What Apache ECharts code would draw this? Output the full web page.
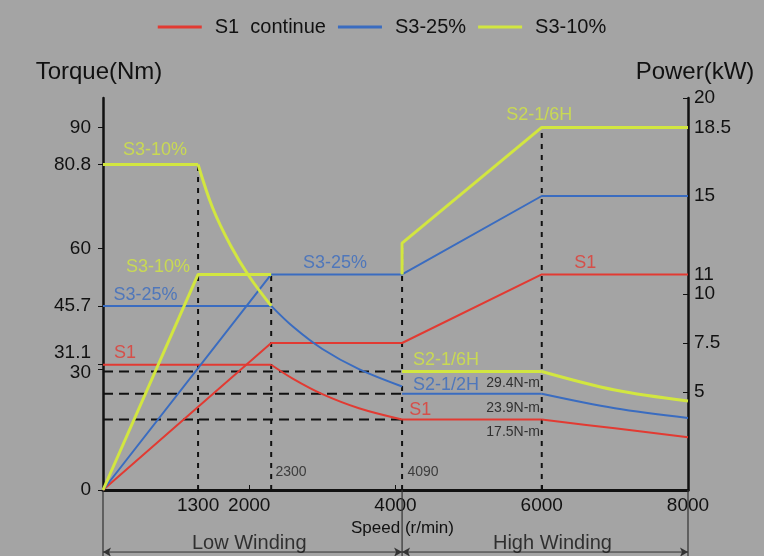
<!DOCTYPE html>
<html><head><meta charset="utf-8">
<script src="https://cdn.jsdelivr.net/npm/echarts@6/dist/echarts.min.js"></script>
<style>html,body{margin:0;padding:0;background:#a4a4a4;} #c{width:764px;height:556px;}</style>
</head><body><div id="c"></div>
<script>
// ---------------- data ----------------
const seriesNames = ['S1  continue', 'S3-25%', 'S3-10%'];
const xTickValues = [1300, 2000, 4000, 6000, 8000];
const torqueTickValues = [0, 30, 31.1, 45.7, 60, 80.8, 90];
const powerTickValues = [5, 7.5, 10, 11, 15, 18.5, 20];
const powerMax = 20;
const torqueAtPowerTop = 97.3;

// S1 continue  [speed r/min, torque Nm] / [speed, power kW]
const s1TorqueLow = [[0, 31.1], [2300, 31.1]];
const s1TorqueLowFall = [[2300, 31.1], [2600, 27.6], [3000, 23.8], [3500, 20.3], [4090, 17.5]];
const s1TorqueHigh = [[4090, 17.5], [6000, 17.5]];
const s1TorqueHighFall = [[6000, 17.5], [7000, 15.3], [8000, 13.1]];
const s1Power = [[0, 0], [2300, 7.5], [4090, 7.5], [6000, 11], [8000, 11]];

// S3-25%
const s325TorqueLow = [[0, 45.7], [2300, 45.7]];
const s325TorqueLowFall = [[2300, 45.7], [2600, 40.5], [3000, 35], [3500, 30], [4090, 25.7]];
const s325TorqueHigh = [[4090, 23.9], [6000, 23.9]];
const s325TorqueHighFall = [[6000, 23.9], [7000, 20.3], [8000, 17.9]];
const s325Power = [[0, 0], [2300, 11], [4090, 11], [6000, 15], [8000, 15]];

// S3-10%
const s310TorqueLow = [[0, 80.8], [1300, 80.8]];
const s310TorqueLowFall = [[1300, 80.8], [1500, 70], [1750, 60.5], [2000, 53], [2300, 45.7]];
const s310TorqueHigh = [[4090, 29.4], [6000, 29.4]];
const s310TorqueHighFall = [[6000, 29.4], [7000, 24.8], [8000, 22.1]];
const s310PowerLow = [[0, 0], [1300, 11], [2300, 11]];
const s310PowerHigh = [[4090, 11], [4090, 12.6], [6000, 18.5], [8000, 18.5]];

// reference guides
const torqueRefLevels = [29.4, 23.9, 17.5];
const torqueRefEnd = 4090;
const speedGuidesTorque = [[1300, 80.8]];
const speedGuidesPower = [[2300, 11], [4090, 12.6], [6000, 18.5]];
const windingBounds = [0, 4090, 8000];
const windingBottom = -16.5;
const windingArrowLevel = -15.4;

// annotations [speed, torque, text]
const greenNotes = [[711, 84.4, 'S3-10%'], [752, 55.3, 'S3-10%'], [5965, 93, 'S2-1/6H'], [4692, 32.3, 'S2-1/6H']];
const blueNotes = [[581, 48.4, 'S3-25%'], [3174, 56.3, 'S3-25%'], [4692, 26.0, 'S2-1/2H']];
const redNotes = [[301, 34.0, 'S1'], [6594, 56.3, 'S1'], [4337, 19.9, 'S1']];
const torqueNotes = [[5609, 26.6, '29.4N-m'], [5609, 20.3, '23.9N-m'], [5609, 14.4, '17.5N-m']];
const speedNotes = [[2572, 4.5, '2300'], [4377, 4.5, '4090']];
const windingNotes = [[2000, -13.2, 'Low Winding'], [6146, -13.2, 'High Winding']];

// ---------------- styles ----------------
const RED = '#e23a32', BLUE = '#3a6cc0', GREEN = '#d2e640', INK = '#111';
const FONT = '"Liberation Sans", Arial, sans-serif';

function curve(name, data, color, width, axis, smooth) {
  return { type: 'line', name, data, yAxisIndex: axis, symbol: 'none', smooth: smooth ? 0.35 : false,
    lineStyle: { color, width }, itemStyle: { color }, clip: false, z: 3, silent: true };
}
function guide(data, axis, dash, width, color) {
  return { type: 'line', data, yAxisIndex: axis, symbol: 'none', clip: false, z: 2, silent: true,
    lineStyle: { color: color || INK, width: width || 2, type: dash } };
}
function notes(data, color, size) {
  return { type: 'scatter', data, yAxisIndex: 0, symbolSize: 1, clip: false, z: 5, silent: true,
    itemStyle: { color: 'transparent' },
    label: { show: true, position: 'inside', formatter: p => p.data[2], color, fontSize: size,
      fontFamily: FONT, align: 'center', verticalAlign: 'middle' } };
}

const series = [];
torqueRefLevels.forEach(v => series.push(guide([[0, v], [torqueRefEnd, v]], 0, [10, 6], 2)));
speedGuidesTorque.forEach(g => series.push(guide([[g[0], 0], [g[0], g[1]]], 0, [5, 6], 2)));
speedGuidesPower.forEach(g => series.push(guide([[g[0], 0], [g[0], g[1]]], 1, [5, 6], 2)));
windingBounds.forEach(b => series.push(guide([[b, 0], [b, windingBottom]], 0, 'solid', 1.2, '#333')));
for (let i = 0; i < windingBounds.length - 1; i++) {
  series.push({ type: 'line', yAxisIndex: 0, clip: false, silent: true, z: 2,
    symbol: 'arrow', symbolSize: [7, 8], showSymbol: true,
    itemStyle: { color: '#333' }, lineStyle: { color: '#333', width: 1 },
    data: [{ value: [windingBounds[i], windingArrowLevel], symbolRotate: 90 },
           { value: [windingBounds[i + 1], windingArrowLevel], symbolRotate: -90 }] });
}

[[s1TorqueLow, 0, 0], [s1TorqueLowFall, 0, 1], [s1TorqueHigh, 0, 0], [s1TorqueHighFall, 0, 1], [s1Power, 1, 0]]
  .forEach(d => series.push(curve(seriesNames[0], d[0], RED, 2, d[1], d[2])));
[[s325TorqueLow, 0, 0], [s325TorqueLowFall, 0, 1], [s325TorqueHigh, 0, 0], [s325TorqueHighFall, 0, 1], [s325Power, 1, 0]]
  .forEach(d => series.push(curve(seriesNames[1], d[0], BLUE, 2, d[1], d[2])));
[[s310TorqueLow, 0, 0], [s310TorqueLowFall, 0, 1], [s310TorqueHigh, 0, 0], [s310TorqueHighFall, 0, 1], [s310PowerLow, 1, 0], [s310PowerHigh, 1, 0]]
  .forEach(d => series.push(curve(seriesNames[2], d[0], GREEN, 3, d[1], d[2])));

series.push(notes(greenNotes, GREEN, 18));
series.push(notes(blueNotes, BLUE, 18));
series.push(notes(redNotes, RED, 18));
series.push(notes(torqueNotes, INK, 14));
series.push(notes(speedNotes, '#222', 14));
series.push(notes(windingNotes, INK, 20));

const chart = echarts.init(document.getElementById('c'), null, { renderer: 'canvas' });
chart.setOption({
  backgroundColor: '#a4a4a4',
  animation: false,
  textStyle: { fontFamily: FONT },
  legend: {
    data: seriesNames, top: 12, left: 'center', icon: 'rect', itemWidth: 44, itemHeight: 3, itemGap: 12,
    textStyle: { fontSize: 20, color: INK, padding: [0, 0, 0, 8] }
  },
  grid: { left: 103, right: 76, top: 98, bottom: 66, containLabel: false },
  xAxis: {
    type: 'value', min: 0, max: 8000, position: 'bottom',
    splitLine: { show: false },
    axisLine: { lineStyle: { color: INK, width: 3 } },
    axisTick: { inside: true, length: 5, customValues: xTickValues, lineStyle: { color: INK, width: 1 } },
    axisLabel: { customValues: xTickValues, fontSize: 19, color: INK, margin: 6, formatter: v => String(v) },
    name: 'Speed (r/min)', nameLocation: 'middle', nameGap: 22,
    nameTextStyle: { fontSize: 17, color: INK, padding: [0, 0, 0, 14] }
  },
  yAxis: [{
    type: 'value', min: 0, max: torqueAtPowerTop, position: 'left',
    splitLine: { show: false },
    axisLine: { show: true, onZero: false, lineStyle: { color: INK, width: 2.5 } },
    axisTick: { show: true, length: 5, customValues: torqueTickValues, lineStyle: { color: INK } },
    axisLabel: {
      customValues: torqueTickValues, fontSize: 19, color: INK, margin: 12,
      formatter: v => v === 31.1 ? '{up|31.1}' : (v === 30 ? '{dn|30}' : String(v)),
      rich: { up: { fontSize: 19, color: INK, padding: [0, 0, 24, 0] }, dn: { fontSize: 19, color: INK, padding: [8, 0, 0, 0] } }
    },
    name: 'Torque(Nm)', nameLocation: 'end', nameGap: 14,
    nameTextStyle: { fontSize: 24, color: INK, padding: [0, 8, 0, 0] }
  }, {
    type: 'value', min: 0, max: powerMax, position: 'right',
    splitLine: { show: false },
    axisLine: { show: true, onZero: false, lineStyle: { color: INK, width: 2.5 } },
    axisTick: { show: true, inside: true, length: 5, customValues: powerTickValues, lineStyle: { color: INK } },
    axisLabel: { customValues: powerTickValues, fontSize: 19, color: INK, margin: 6 },
    name: 'Power(kW)', nameLocation: 'end', nameGap: 14,
    nameTextStyle: { fontSize: 24, color: INK, padding: [0, 0, 0, 14] }
  }],
  series
});
</script></body></html>
